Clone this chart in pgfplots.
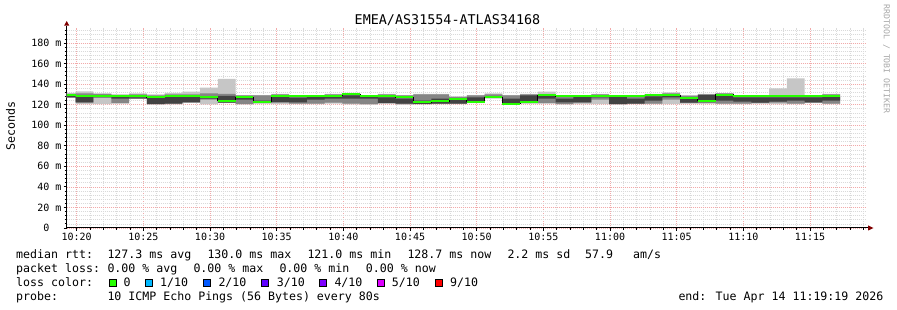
\documentclass[border=0pt]{standalone}
\usepackage{fontspec}
\setmainfont{DejaVu Sans Mono}
\usepackage{pgfplots}
\pgfplotsset{compat=1.18}
\usepackage{pgfplotstable}
\usepgfplotslibrary{fillbetween}
\definecolor{smokeA}{HTML}{C6C6C6}
\definecolor{smokeB}{HTML}{858585}
\definecolor{smokeC}{HTML}{424242}
\definecolor{loss0}{HTML}{26FF00}
\definecolor{loss1}{HTML}{00B8FF}
\definecolor{loss2}{HTML}{0059FF}
\definecolor{loss3}{HTML}{5E00FF}
\definecolor{loss4}{HTML}{7E00FF}
\definecolor{loss5}{HTML}{DD00FF}
\definecolor{loss9}{HTML}{FF0000}
\definecolor{mgrid}{HTML}{F2AAAA}
\definecolor{mingrid}{HTML}{DADADA}
\definecolor{arrowred}{HTML}{800000}
\newcommand\lf{\fontsize{11.6}{14}\selectfont}
\newcommand\tf{\fontsize{10}{12}\selectfont}

% minutes after 10:00 ; ms
\pgfplotstableread{
t      amin  amax  bmin  bmax  cmin  cmax  med
19.25  126.5 131.5 127.0 130.5 127.0 128.5 129.7
19.925 120.5 133.0 122.0 131.0 122.3 127.4 128.6
21.258 120.5 131.0 126.5 130.5 127.5 128.5 128.4
22.592 121.0 130.0 121.5 129.5 126.0 128.5 128.0
23.925 126.0 131.0 126.5 130.0 126.0 127.0 128.0
25.258 120.3 130.0 120.5 129.0 120.5 126.5 127.0
26.592 120.3 131.6 121.0 130.0 121.0 127.5 128.4
27.925 122.0 132.6 122.3 130.0 122.3 127.4 128.4
29.258 120.3 136.5 125.0 131.0 126.0 128.0 127.0
30.592 121.5 145.0 122.0 130.5 122.0 128.5 124.0
31.925 120.3 129.4 120.5 129.0 125.0 127.0 127.0
33.258 121.0 129.4 121.5 129.0 122.0 124.0 123.0
34.592 120.5 130.6 122.0 130.0 122.5 127.4 128.4
35.925 120.5 129.4 121.0 129.0 122.3 126.8 128.3
37.258 120.5 129.4 121.0 129.0 125.0 128.0 128.5
38.592 121.0 130.6 122.0 130.0 126.0 129.0 128.5
39.925 120.3 131.6 121.0 131.0 126.0 129.0 130.0
41.258 120.0 129.4 120.5 129.0 126.0 128.0 128.6
42.592 121.0 130.6 121.5 130.0 121.5 127.0 128.6
43.925 120.0 129.4 120.5 129.0 121.0 126.0 127.0
45.258 120.5 130.6 121.0 130.0 120.5 124.0 122.6
46.592 120.5 130.6 121.0 130.0 121.0 126.0 123.5
47.925 120.5 128.0 121.0 127.5 121.0 125.5 126.0
49.258 121.5 129.4 122.0 129.0 123.0 127.0 123.0
50.592 126.0 131.0 126.5 130.0 127.0 128.0 127.4
51.925 120.5 129.4 121.0 129.0 121.0 126.0 121.0
53.258 121.0 130.6 121.5 130.0 122.5 129.0 122.3
54.592 121.0 132.6 121.5 130.0 126.0 129.0 129.0
55.925 120.3 128.7 120.5 128.0 122.3 126.0 128.0
57.258 120.5 129.4 122.0 129.0 122.3 127.4 128.7
58.592 120.5 130.6 125.0 130.0 127.0 128.5 128.7
59.925 120.3 129.4 120.5 129.0 120.5 127.4 128.4
61.258 120.5 129.4 121.0 129.0 121.0 126.0 128.4
62.592 120.5 130.6 121.0 130.0 124.0 128.0 129.0
63.925 120.5 132.0 125.0 131.0 127.0 129.0 129.4
65.258 121.0 129.4 121.5 128.5 122.0 126.5 126.8
66.592 121.0 130.6 121.5 130.0 122.5 129.5 124.0
67.925 120.5 131.3 121.0 131.0 124.0 129.0 129.8
69.258 120.5 129.4 121.0 129.0 123.0 127.0 128.4
70.592 121.0 129.4 121.5 129.0 122.0 127.0 128.4
71.925 120.5 135.8 122.0 129.4 123.0 127.0 128.3
73.258 120.5 145.5 121.0 129.4 124.0 127.0 128.3
74.592 121.5 129.4 122.0 129.0 122.3 127.0 128.4
75.925 120.5 130.6 121.0 130.0 124.0 128.0 128.7
77.258 120.5 130.6 121.0 130.0 124.0 128.0 128.7
}\smoke

\begin{document}
\begin{tikzpicture}[x=1pt,y=1pt]
\path (0,0) rectangle (897,310);
\begin{axis}[
  at={(66.7pt,82pt)}, anchor=south west,
  scale only axis, width=800pt, height=200.4pt,
  xmin=19.25, xmax=79.25, ymin=0, ymax=195,
  axis lines*=left,
  axis line style={-, black, line width=1pt},
  no markers,
  xtick={20,25,...,80},
  xticklabels={10:20,10:25,10:30,10:35,10:40,10:45,10:50,10:55,11:00,11:05,11:10,11:15,11:20},
  minor x tick num=4,
  ytick={0,20,...,200},
  yticklabels={0\phantom{\ m},20 m,40 m,60 m,80 m,100 m,120 m,140 m,160 m,180 m,200 m},
  minor y tick num=4,
  grid=both,
  major grid style={mgrid, dash pattern=on 1pt off 1pt, line width=0.7pt},
  minor grid style={mingrid, dash pattern=on 1pt off 1pt, line width=0.7pt},
  tick style={black, line width=0.8pt},
  tick align=outside,
  major tick length=3pt, minor tick length=2pt,
  xticklabel style={font=\tf, inner sep=0pt, anchor=north, yshift=-2pt},
  yticklabel style={font=\tf, inner sep=0pt, anchor=east, xshift=-2pt},
]
\addplot[const plot mark left, draw=none, name path=aL] table[x=t,y=amin]{\smoke};
\addplot[const plot mark left, draw=none, name path=aH] table[x=t,y=amax]{\smoke};
\addplot[const plot mark left, draw=none, name path=bL] table[x=t,y=bmin]{\smoke};
\addplot[const plot mark left, draw=none, name path=bH] table[x=t,y=bmax]{\smoke};
\addplot[const plot mark left, draw=none, name path=cL] table[x=t,y=cmin]{\smoke};
\addplot[const plot mark left, draw=none, name path=cH] table[x=t,y=cmax]{\smoke};
\addplot[fill=smokeA, draw=none] fill between[of=aH and aL];
\addplot[fill=smokeB, draw=none] fill between[of=bH and bL];
\addplot[fill=smokeC, draw=none] fill between[of=cH and cL];
\addplot[const plot mark left, black, line width=1pt] table[x=t,y=med]{\smoke};
\addplot[jump mark left, loss0, line width=2pt] table[x=t,y=med]{\smoke};
\end{axis}
% axis arrows
\draw[black, line width=1pt] (866.7,82) -- (868,82);
\fill[arrowred] (868,84.6) -- (873.5,82) -- (868,79.4) -- cycle;
\draw[black, line width=1pt] (66.7,282.4) -- (66.7,284.3);
\fill[arrowred] (64.1,284.3) -- (66.7,289) -- (69.3,284.3) -- cycle;
% title, labels
\node[anchor=base, inner sep=0pt, font=\fontsize{13.4}{16}\selectfont] at (447.5,285.7) {EMEA/AS31554-ATLAS34168};
\node[rotate=90, inner sep=0pt, font=\lf] at (10.5,184) {Seconds};
\node[rotate=-90, inner sep=0pt, text=black!35, font=\fontsize{8.2}{10}\selectfont] at (886.5,251) {RRDTOOL / TOBI OETIKER};
% legend
\begin{scope}[every node/.style={anchor=base west, inner sep=0pt, font=\lf}]
\node at (16,51) {median rtt:};
\node at (107.3,51) {127.3 ms avg};
\node at (207.3,51) {130.0 ms max};
\node at (307.3,51) {121.0 ms min};
\node at (407.3,51) {128.7 ms now};
\node at (507.3,51) {2.2 ms sd};
\node at (585,51) {57.9};
\node at (633,51) {am/s};
\node at (16,37) {packet loss:};
\node at (107.3,37) {0.00 \% avg};
\node at (193.3,37) {0.00 \% max};
\node at (279.3,37) {0.00 \% min};
\node at (365.7,37) {0.00 \% now};
\node at (16,23) {loss color:};
\node at (123.3,23) {0};
\node at (160,23) {1/10};
\node at (218.3,23) {2/10};
\node at (276.7,23) {3/10};
\node at (334.3,23) {4/10};
\node at (391.7,23) {5/10};
\node at (450,23) {9/10};
\node at (16,9) {probe:};
\node at (107.3,9) {10 ICMP Echo Pings (56 Bytes) every 80s};
\node at (678.3,9) {end: Tue Apr 14 11:19:19 2026};
\end{scope}
\foreach \xx/\cc in {109/loss0,145.7/loss1,203.7/loss2,261.3/loss3,319.3/loss4,377/loss5,435/loss9}{
  \filldraw[fill=\cc, draw=black, line width=0.6pt] (\xx,24) rectangle (\xx+7,31);
}
\end{tikzpicture}
\end{document}
